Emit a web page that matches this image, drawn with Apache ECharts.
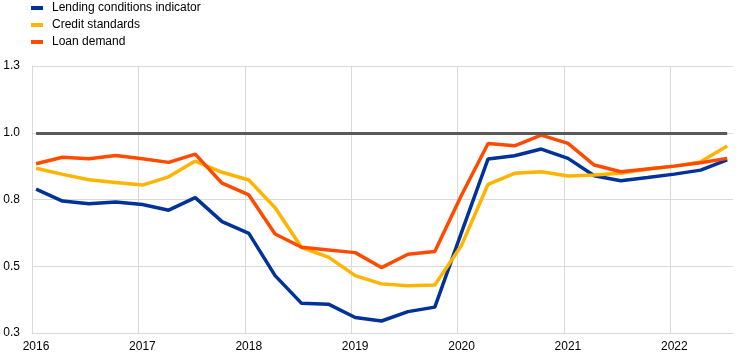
<!DOCTYPE html>
<html>
<head>
<meta charset="utf-8">
<script src="https://cdn.jsdelivr.net/npm/echarts@6/dist/echarts.min.js"></script>
<style>html,body{margin:0;padding:0;background:#fff}#c{width:742px;height:359px}</style>
</head>
<body>
<div id="c"></div>
<script>
const dates = ['2016-01-15','2016-04-15','2016-07-15','2016-10-15',
  '2017-01-15','2017-04-15','2017-07-15','2017-10-15',
  '2018-01-15','2018-04-15','2018-07-15','2018-10-15',
  '2019-01-15','2019-04-15','2019-07-15','2019-10-15',
  '2020-01-15','2020-04-15','2020-07-15','2020-10-15',
  '2021-01-15','2021-04-15','2021-07-15','2021-10-15',
  '2022-01-15','2022-04-15','2022-07-15'];
const lendingConditions = [0.789,0.744,0.734,0.741,0.731,0.710,0.757,0.667,0.623,0.465,0.361,0.358,0.308,0.295,0.330,0.347,0.628,0.902,0.914,0.939,0.904,0.839,0.820,0.832,0.845,0.860,0.898];
const creditStandards = [0.867,0.844,0.824,0.814,0.804,0.835,0.894,0.852,0.823,0.719,0.570,0.534,0.465,0.434,0.427,0.430,0.579,0.807,0.848,0.854,0.838,0.842,0.848,0.864,0.875,0.891,0.950];
const loanDemand = [0.884,0.908,0.903,0.915,0.903,0.889,0.920,0.811,0.767,0.621,0.571,0.561,0.551,0.495,0.545,0.555,0.767,0.960,0.951,0.991,0.960,0.879,0.854,0.864,0.875,0.888,0.904];
const seriesNames = ['Lending conditions indicator','Credit standards','Loan demand'];
const referenceLevel = 1.0;
const yTicks = [0.25, 0.5, 0.75, 1.0, 1.25];
const xStartYear = 2016;
const xEndDate = '2022-08-04';

function toYear(s) {
  const [y, m, d] = s.split('-').map(Number);
  const t = Date.UTC(y, m - 1, d), a = Date.UTC(y, 0, 1), b = Date.UTC(y + 1, 0, 1);
  return y + (t - a) / (b - a);
}
const xs = dates.map(toYear);
const pair = arr => arr.map((v, i) => [xs[i], v]);
const colors = ['#003299', '#ffb400', '#ff4b00'];
const gridCol = '#d9d9d9';
const xMax = toYear(xEndDate);
const nYears = Math.floor(xMax) - xStartYear + 1;
const splitColors = Array.from({length: nYears}, () => gridCol).concat(['rgba(0,0,0,0)']);

const chart = echarts.init(document.getElementById('c'), null, {renderer: 'canvas'});
chart.setOption({
  animation: false,
  textStyle: {fontFamily: 'Liberation Sans, Arial, sans-serif'},
  color: colors,
  legend: {
    orient: 'vertical', left: 26, top: -4,
    itemWidth: 12, itemHeight: 4, itemGap: 3,
    icon: 'rect',
    textStyle: {fontSize: 12, color: '#000', lineHeight: 14, padding: [0, 0, 0, 4]},
    data: seriesNames
  },
  grid: {left: 32, right: 9, top: 66, bottom: 26, containLabel: false},
  xAxis: {
    type: 'value', min: xStartYear, max: xMax, interval: 1,
    axisLine: {show: true, lineStyle: {color: gridCol, width: 1}},
    axisTick: {show: false},
    axisLabel: {color: '#000', fontSize: 12, margin: 8, padding: [0, 0, 0, 8],
      formatter: v => Number.isInteger(v) ? String(v) : ''},
    splitLine: {show: true, lineStyle: {color: splitColors, width: 1}}
  },
  yAxis: {
    type: 'value', min: yTicks[0], max: yTicks[yTicks.length - 1], interval: 0.25,
    axisLine: {show: true, lineStyle: {color: gridCol, width: 1}},
    axisTick: {show: false},
    axisLabel: {color: '#000', fontSize: 12, margin: 12, formatter: v => v.toFixed(1)},
    splitLine: {show: true, lineStyle: {color: gridCol, width: 1}}
  },
  series: [
    {name: seriesNames[0], type: 'line', data: pair(lendingConditions), symbol: 'none',
      lineStyle: {width: 3.5, color: colors[0]},
      markLine: {silent: true, symbol: 'none', label: {show: false},
        lineStyle: {color: '#595959', width: 3, type: 'solid'},
        data: [[{coord: [xs[0], referenceLevel]}, {coord: [xs[xs.length - 1], referenceLevel]}]]}},
    {name: seriesNames[1], type: 'line', data: pair(creditStandards), symbol: 'none',
      lineStyle: {width: 3.5, color: colors[1]}},
    {name: seriesNames[2], type: 'line', data: pair(loanDemand), symbol: 'none',
      lineStyle: {width: 3.5, color: colors[2]}}
  ]
});
</script>
</body>
</html>
